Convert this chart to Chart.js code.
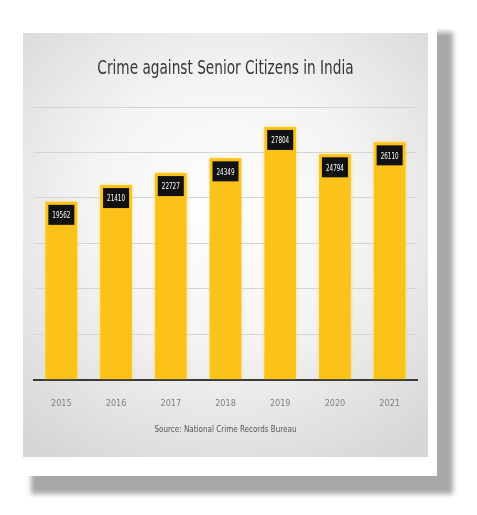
<!DOCTYPE html>
<html>
<head>
<meta charset="utf-8">
<script src="https://cdn.jsdelivr.net/npm/chart.js@4.4.0/dist/chart.umd.min.js"></script>
<style>
    html, body { margin: 0; padding: 0; background: #fff; }
    body { width: 477px; height: 515px; position: relative; overflow: hidden; }
    .card {
        position: absolute; left: 15px; top: 14px; width: 422px; height: 462px;
        background: #fff;
        box-shadow: 16px 18px 5px #a8a8a8;
    }
    .panel {
        position: absolute; left: 8px; top: 19px; width: 405px; height: 424px;
        background: radial-gradient(ellipse 75% 70% at 50% 42%, #ffffff 0%, #f4f4f4 45%, #d6d6d6 100%);
    }
</style>
</head>
<body>
<div class="card">
    <div class="panel">
        <canvas id="crimeChart" width="405" height="424"></canvas>
    </div>
</div>
<script>
// Crime against senior citizens (NCRB)
const years = ['2015', '2016', '2017', '2018', '2019', '2020', '2021'];
const crimeCounts = [19562, 21410, 22727, 24349, 27804, 24794, 26110];
const yTicks = [0, 5000, 10000, 15000, 20000, 25000, 30000];
const chartTitle = 'Crime against Senior Citizens in India';

const narrowFont = '"DejaVu Sans Condensed", "Liberation Sans", sans-serif';

// draw text squeezed horizontally (the original uses a condensed face)
function narrowText(ctx, text, x, y, squeeze) {
    ctx.save();
    ctx.translate(x, y);
    ctx.scale(squeeze, 1);
    ctx.fillText(text, 0, 0);
    ctx.restore();
}

// title drawn condensed
const condensedTitle = {
    id: 'condensedTitle',
    afterDraw(chart) {
        const ctx = chart.ctx;
        ctx.save();
        ctx.font = '19px ' + narrowFont;
        ctx.fillStyle = '#363636';
        ctx.textAlign = 'center';
        ctx.textBaseline = 'middle';
        narrowText(ctx, chartTitle, chart.width / 2, 36, 0.8);
        ctx.restore();
    }
};

// black value boxes on top of the bars
const valueBoxes = {
    id: 'valueBoxes',
    afterDatasetsDraw(chart) {
        const ctx = chart.ctx;
        const meta = chart.getDatasetMeta(0);
        ctx.save();
        ctx.font = '9px ' + narrowFont;
        ctx.textAlign = 'center';
        ctx.textBaseline = 'middle';
        meta.data.forEach((bar, i) => {
            const w = 26, h = 20;
            const x = bar.x - w / 2;
            const y = bar.y + 3;
            ctx.fillStyle = '#111';
            ctx.fillRect(x, y, w, h);
            ctx.fillStyle = '#fff';
            narrowText(ctx, String(crimeCounts[i]), bar.x, y + h / 2 + 1, 0.7);
        });
        ctx.restore();
    }
};

// soft yellow glow around the bars
const barGlow = {
    id: 'barGlow',
    beforeDatasetsDraw(chart) {
        chart.ctx.save();
        chart.ctx.shadowColor = 'rgba(255, 220, 90, 0.7)';
        chart.ctx.shadowBlur = 4;
    },
    afterDatasetsDraw(chart) {
        chart.ctx.restore();
    }
};

const crimeChart = new Chart(document.getElementById('crimeChart'), {
    type: 'bar',
    data: {
        labels: years,
        datasets: [{
            data: crimeCounts,
            backgroundColor: '#fbc219',
            borderWidth: 0,
            barPercentage: 0.58,
            categoryPercentage: 1.0
        }]
    },
    plugins: [barGlow, valueBoxes, condensedTitle],
    options: {
        responsive: false,
        animation: false,
        layout: { padding: { left: 11, right: 11, top: 74, bottom: 18 } },
        plugins: {
            legend: { display: false },
            tooltip: { enabled: false },
            title: { display: false }
        },
        scales: {
            y: {
                min: 0,
                max: 30000,
                afterBuildTicks: axis => { axis.ticks = yTicks.map(v => ({ value: v })); },
                ticks: { display: false },
                grid: { color: '#d4d4d4', drawTicks: false },
                border: { display: false }
            },
            x: {
                grid: { display: false },
                border: { display: true, color: '#3a3a3a', width: 2 },
                ticks: {
                    color: '#808080',
                    padding: 11,
                    font: { family: narrowFont, size: 9 }
                },
                title: {
                    display: true,
                    text: 'Source: National Crime Records Bureau',
                    color: '#555',
                    padding: { top: 5 },
                    font: { family: narrowFont, size: 8 }
                }
            }
        }
    }
});
</script>
</body>
</html>
